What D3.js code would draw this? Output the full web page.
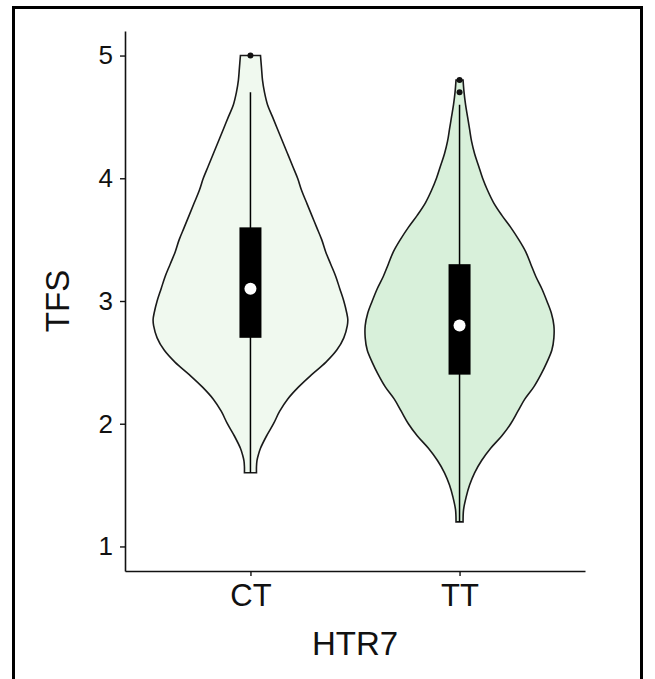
<!DOCTYPE html>
<html>
<head>
<meta charset="utf-8">
<script src="https://cdn.jsdelivr.net/npm/d3@7"></script>
<style>
  html, body { margin: 0; padding: 0; background: #fff; }
  svg { display: block; }
  text { font-family: "Liberation Sans", Arial, sans-serif; }
</style>
</head>
<body>
<svg id="chart" width="655" height="679"></svg>
<script>
// ---------- data ----------
const categories = ["CT", "TT"];
const yTicks = [1, 2, 3, 4, 5];
const xTitle = "HTR7";
const yTitle = "TFS";

// violin outline: value levels and relative density (kernel estimate)
const ctLevels  = [1.6, 1.65, 1.7, 1.75, 1.8, 1.9, 2.0, 2.1, 2.2, 2.3, 2.4, 2.5, 2.6, 2.7, 2.8, 2.85, 2.9, 3.0, 3.1, 3.2, 3.3, 3.4, 3.5, 3.6, 3.7, 3.8, 3.9, 4.0, 4.1, 4.2, 4.3, 4.4, 4.5, 4.6, 4.7, 4.8, 4.9, 5.0];
const ctDensity = [0.06, 0.06, 0.065, 0.08, 0.10, 0.16, 0.23, 0.29, 0.37, 0.48, 0.61, 0.75, 0.86, 0.93, 0.965, 0.97, 0.96, 0.93, 0.89, 0.85, 0.80, 0.75, 0.71, 0.66, 0.61, 0.56, 0.51, 0.47, 0.42, 0.37, 0.32, 0.27, 0.22, 0.17, 0.14, 0.12, 0.11, 0.10];
const ttLevels  = [1.2, 1.3, 1.4, 1.5, 1.6, 1.7, 1.8, 1.9, 2.0, 2.1, 2.2, 2.3, 2.4, 2.5, 2.6, 2.7, 2.8, 2.9, 3.0, 3.1, 3.2, 3.3, 3.4, 3.5, 3.6, 3.7, 3.8, 3.9, 4.0, 4.1, 4.2, 4.3, 4.4, 4.5, 4.6, 4.7, 4.8];
const ttDensity = [0.035, 0.04, 0.065, 0.10, 0.15, 0.22, 0.31, 0.42, 0.51, 0.58, 0.65, 0.74, 0.81, 0.87, 0.92, 0.94, 0.94, 0.915, 0.87, 0.82, 0.76, 0.71, 0.66, 0.59, 0.51, 0.42, 0.34, 0.28, 0.23, 0.19, 0.15, 0.12, 0.10, 0.08, 0.06, 0.045, 0.035];

// box plot statistics
const q1       = [2.7, 2.4];
const q3       = [3.6, 3.3];
const medians  = [3.1, 2.8];
const whiskLo  = [1.6, 1.2];
const whiskHi  = [4.7, 4.6];
const outliers = [[5.0], [4.8, 4.7]];

const fills = ["#f0f9ef", "#d8f0da"];

// ---------- layout ----------
const svg = d3.select("#chart");
const margin = { left: 125, right: 70, top: 31, bottom: 108 };
const W = 655, H = 679;

svg.append("rect")
  .attr("x", 13.5).attr("y", 7.5)
  .attr("width", 628).attr("height", 700)
  .attr("fill", "none").attr("stroke", "#000").attr("stroke-width", 3);

const x = d3.scalePoint()
  .domain(categories)
  .range([margin.left, W - margin.right])
  .padding(0.6);

const y = d3.scaleLinear()
  .domain([0.8, 5.2])
  .range([H - margin.bottom, margin.top]);

const w = d3.scaleLinear().domain([0, 1]).range([0, x.step() * 0.48]);

const groups = [
  { levels: ctLevels, dens: ctDensity },
  { levels: ttLevels, dens: ttDensity }
];

// violins
groups.forEach((g, i) => {
  const cx = x(categories[i]);
  const pts = g.levels.map((v, k) => ({ v, d: g.dens[k] }));
  const area = d3.area()
    .y(d => y(d.v))
    .x0(d => cx - w(d.d))
    .x1(d => cx + w(d.d))
    .curve(d3.curveCatmullRom);
  svg.append("path")
    .datum(pts)
    .attr("d", area)
    .attr("fill", fills[i])
    .attr("stroke", "#1a1a1a")
    .attr("stroke-width", 1.6);
});

// box plots
categories.forEach((c, i) => {
  const cx = x(c);
  svg.append("line")
    .attr("x1", cx).attr("x2", cx)
    .attr("y1", y(whiskLo[i])).attr("y2", y(whiskHi[i]))
    .attr("stroke", "#000").attr("stroke-width", 1.5);
  svg.append("rect")
    .attr("x", cx - 11).attr("width", 22)
    .attr("y", y(q3[i])).attr("height", y(q1[i]) - y(q3[i]))
    .attr("fill", "#000");
  svg.append("circle")
    .attr("cx", cx).attr("cy", y(medians[i])).attr("r", 6)
    .attr("fill", "#fff");
  outliers[i].forEach(o => {
    svg.append("circle")
      .attr("cx", cx).attr("cy", y(o)).attr("r", 3)
      .attr("fill", "#111");
  });
});

// axes
const yAxis = svg.append("g")
  .attr("transform", `translate(${margin.left},0)`)
  .call(d3.axisLeft(y).tickValues(yTicks).tickFormat(d3.format("d"))
    .tickSize(5).tickSizeOuter(0).tickPadding(7));
yAxis.selectAll("text").attr("font-size", 26).attr("fill", "#111")
  .style("font-family", "'Liberation Sans', Arial, sans-serif");

const xAxis = svg.append("g")
  .attr("transform", `translate(0,${H - margin.bottom})`)
  .call(d3.axisBottom(x).tickSize(5).tickSizeOuter(0).tickPadding(8));
xAxis.selectAll("text").attr("font-size", 31).attr("fill", "#111")
  .style("font-family", "'Liberation Sans', Arial, sans-serif");

[yAxis, xAxis].forEach(a => {
  a.select(".domain").attr("stroke", "#111").attr("stroke-width", 1.6);
  a.selectAll(".tick line").attr("stroke", "#111").attr("stroke-width", 1.4);
});

// titles
svg.append("text")
  .attr("x", (margin.left + W - margin.right) / 2)
  .attr("y", 655)
  .attr("text-anchor", "middle")
  .attr("font-size", 33)
  .attr("fill", "#111")
  .text(xTitle);

svg.append("text")
  .attr("transform", `translate(69,${(y(0.8) + y(5.2)) / 2}) rotate(-90)`)
  .attr("text-anchor", "middle")
  .attr("font-size", 33)
  .attr("fill", "#111")
  .text(yTitle);
</script>
</body>
</html>
